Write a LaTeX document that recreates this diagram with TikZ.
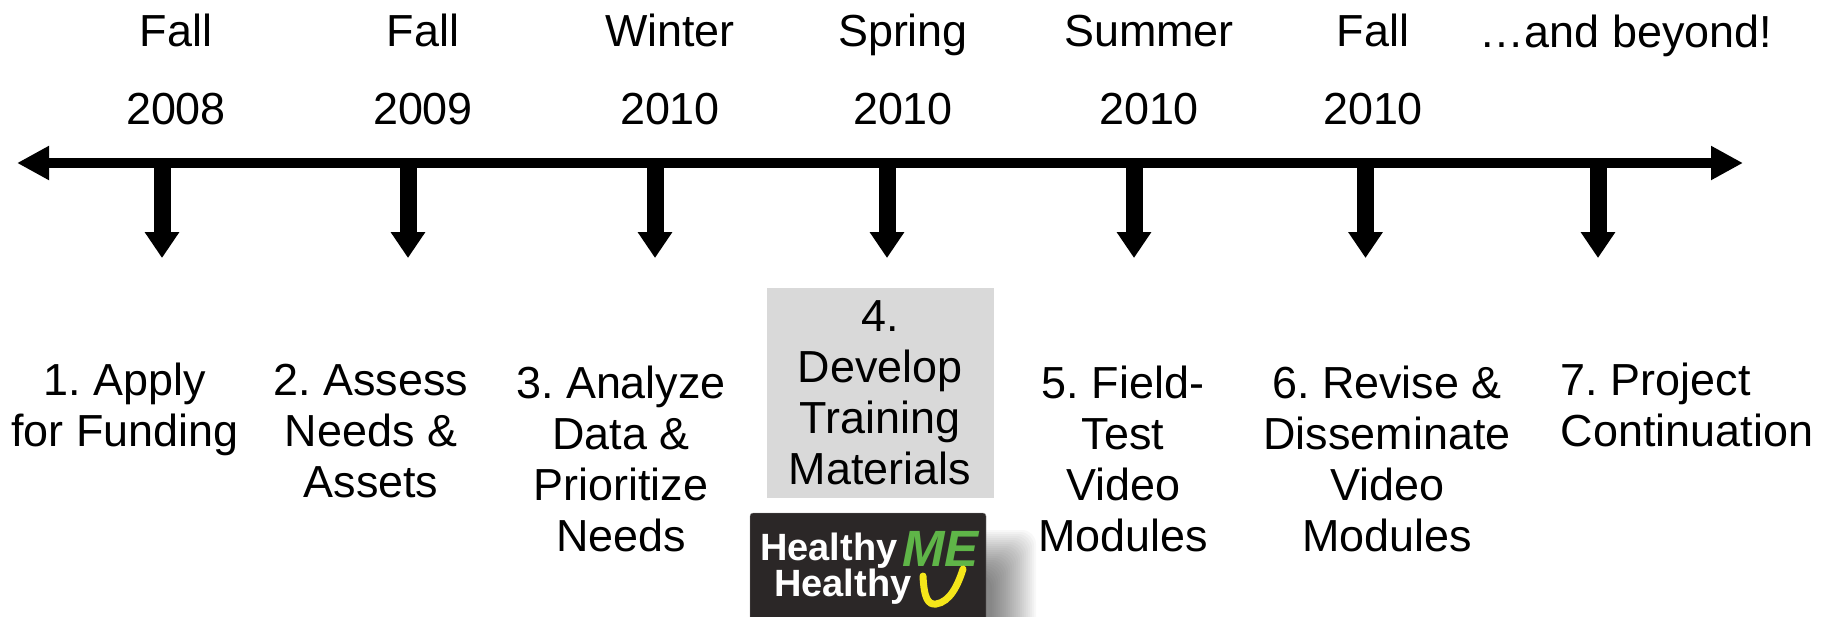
\documentclass[tikz,border=0pt]{standalone}
\usepackage{fontspec}
\setmainfont{Liberation Sans}
\usetikzlibrary{arrows.meta}

\definecolor{logodark}{HTML}{2B2727}
\definecolor{logogreen}{HTML}{5FB548}
\definecolor{logoyellow}{HTML}{F5E61A}

\tikzset{
	axis/.style={line width=10.5pt,{Triangle[length=32pt,width=32pt]}-{Triangle[length=32pt,width=32pt]}},
	stem/.style={line width=17pt,-{Triangle[length=26pt,width=33pt]}},
	date/.style={align=center,anchor=south,inner sep=0pt,text depth=0pt,font=\fontsize{44.9}{78}\selectfont},
	stage/.style={align=center,anchor=south,inner sep=0pt,text depth=0pt,font=\fontsize{44.9}{51}\selectfont},
	badge/.style={anchor=base west,inner sep=0pt,text=white,font=\fontsize{38}{38}\selectfont\bfseries}
}

\begin{document}
\frenchspacing
\begin{tikzpicture}[x=1pt,y=-1pt]

\useasboundingbox (0,0) rectangle (1830,616);

\coordinate (P) at (17,163);
\coordinate (Q) at (1743,163);
\coordinate (A) at (162,163);
\coordinate (B) at (408,163);
\coordinate (C) at (655,163);
\coordinate (D) at (887,163);
\coordinate (E) at (1134,163);
\coordinate (F) at (1365.5,163);
\coordinate (G) at (1598,163);
\coordinate (A1) at (162,258);
\coordinate (B1) at (408,258);
\coordinate (C1) at (655,258);
\coordinate (D1) at (887,258);
\coordinate (E1) at (1134,258);
\coordinate (F1) at (1365.5,258);
\coordinate (G1) at (1598,258);

\draw [axis] (P) -- (Q);
\draw [stem] (A) -- (A1);
\draw [stem] (B) -- (B1);
\draw [stem] (C) -- (C1);
\draw [stem] (D) -- (D1);
\draw [stem] (E) -- (E1);
\draw [stem] (F) -- (F1);
\draw [stem] (G) -- (G1);

\node (dateA) at (176,124.7) [date]{Fall\\2008};
\node (dateB) at (423,124.7) [date]{Fall\\2009};
\node (dateC) at (670,124.7) [date]{Winter\\2010};
\node (dateD) at (903,124.7) [date]{Spring\\2010};
\node (dateE) at (1149,124.7) [date]{Summer\\2010};
\node (dateF) at (1373,124.7) [date]{Fall\\2010};
\node (dateG) at (1626,47.2) [date]{…and beyond!};

\fill [black!15] (767,288) rectangle (994,498);

\node (stageA) at (125,446.2) [stage]{1. Apply\\for Funding};
\node (stageB) at (371,497.2) [stage]{2. Assess\\Needs \&\\Assets};
\node (stageC) at (621,551.4) [stage]{3. Analyze\\Data \&\\Prioritize\\Needs};
\node (stageD) at (880,484.8) [stage]{4.\\Develop\\Training\\Materials};
\node (stageE) at (1123,551.4) [stage]{5. Field-\\Test\\Video\\Modules};
\node (stageF) at (1387,551.4) [stage]{6. Revise \&\\Disseminate\\Video\\Modules};
\node (stageG) at (1687,446.2) [stage,align=left]{7. Project\\Continuation};

% soft shadow
\foreach \d in {0,2,...,44}
	\fill [black,opacity=0.028,rounded corners=14pt] (800,{530+\d*1.0}) rectangle ({1036-\d},640);

\filldraw [draw=black!45,fill=logodark,rounded corners=3pt] (750,513) rectangle (986,630);

\node (healthyA) at (760,560) [badge]{Healthy};
\node (healthyB) at (774,596) [badge]{Healthy};
\node (me) at (902,566) [badge,text=logogreen,font=\fontsize{51}{51}\selectfont\bfseries\itshape]{ME};
\draw [logoyellow,line width=7pt,line cap=round] (923,576) .. controls (924,598) and (928,605) .. (936,604) .. controls (950,602) and (958,585) .. (963,569);

\end{tikzpicture}
\end{document}
